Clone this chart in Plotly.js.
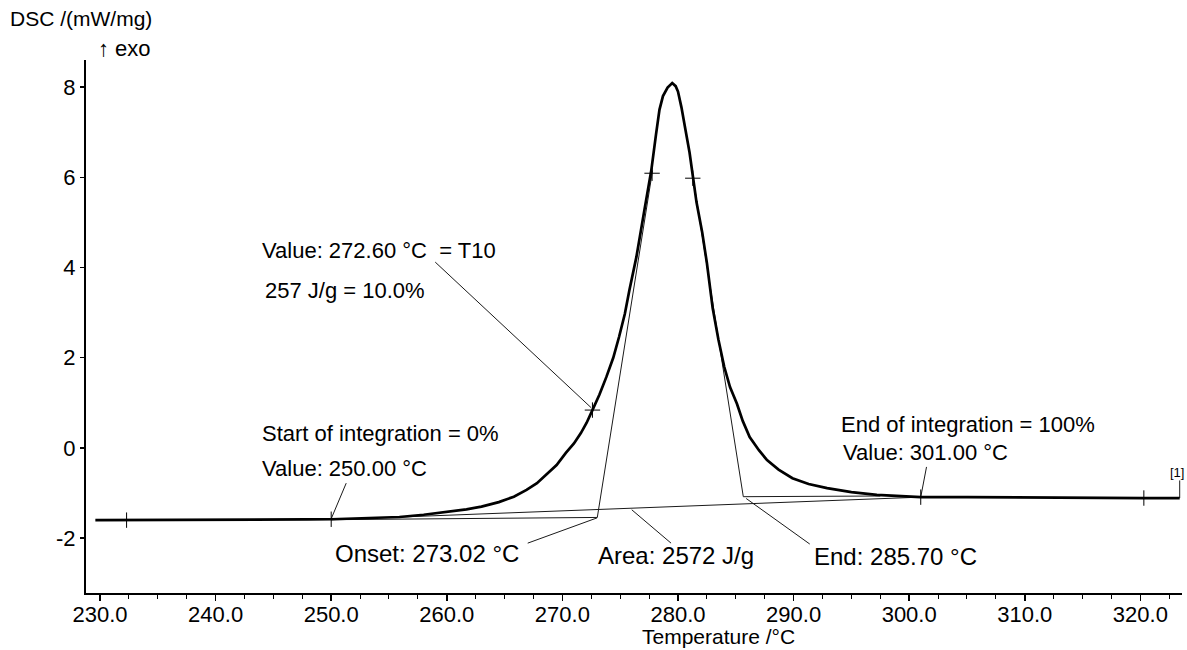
<!DOCTYPE html>
<html><head><meta charset="utf-8">
<script src="https://cdn.plot.ly/plotly-3.0.1.min.js"></script>
<style>html,body{margin:0;padding:0;background:#fff}#chart{width:1187px;height:650px}</style>
</head><body><div id="chart"></div>
<script>
// DSC curve (temperature in °C, DSC in mW/mg)
const temperature = [229.6,232.3,235,238,240,243,245,248,250,252,254,255.9,258,260,261.7,263,264.5,265.8,266.9,267.8,268.6,269.5,270.3,271.0,271.6,272.1,272.6,273.2,273.8,274.4,274.9,275.4,275.8,276.4,277.1,277.7,278.1,278.4,278.7,279.1,279.5,279.8,280.0,280.3,280.6,281.0,281.3,281.6,282.1,282.5,283.0,283.5,284.0,284.5,285.1,285.6,286.2,287.0,287.7,288.7,289.9,291.3,292.9,295.0,297.2,299.0,301.0,305.0,310.0,315.0,320.3,323.4];
const dsc = [-1.60,-1.60,-1.60,-1.60,-1.60,-1.595,-1.59,-1.585,-1.58,-1.565,-1.55,-1.53,-1.48,-1.42,-1.36,-1.30,-1.20,-1.08,-0.93,-0.78,-0.60,-0.38,-0.11,0.10,0.33,0.56,0.84,1.18,1.57,2.00,2.46,2.97,3.50,4.23,5.28,6.17,6.95,7.50,7.80,7.99,8.09,8.02,7.90,7.55,7.12,6.55,6.00,5.45,4.77,4.10,3.10,2.40,1.80,1.35,0.98,0.60,0.24,-0.05,-0.27,-0.48,-0.67,-0.80,-0.89,-0.98,-1.04,-1.07,-1.09,-1.09,-1.10,-1.10,-1.11,-1.11];

// evaluation marks (+)
const markT = [232.3,250.0,272.6,277.76,281.28,301.0,320.3];
const markV = [-1.60,-1.58,0.84,6.09,5.98,-1.09,-1.11];

// construction lines
const integBaseT = [250.0,301.0],   integBaseV = [-1.59,-1.09];
const preBaseT   = [250.0,273.02],  preBaseV   = [-1.59,-1.54];
const leftTanT   = [273.02,277.8],  leftTanV   = [-1.54,6.15];
const rightTanT  = [285.65,281.3],  rightTanV  = [-1.08,6.0];
const postBaseT  = [285.65,297.5],  postBaseV  = [-1.08,-1.065];

// label pointer lines
const ptrT10T = [259.0,272.5],   ptrT10V = [4.12,0.89];
const ptr250T = [251.3,250.0],   ptr250V = [-0.78,-1.57];
const ptrOnT  = [267.0,273.0],   ptrOnV  = [-2.11,-1.55];
const ptrArT  = [279.4,276.0],   ptrArV  = [-2.11,-1.37];
const ptrEndT = [291.4,285.9],   ptrEndV = [-2.13,-1.12];
const ptr301T = [301.5,301.0],   ptr301V = [-0.42,-1.09];
const seg1T   = [323.4,323.4],   seg1V   = [-1.11,-0.72];

const xTicks = [230,240,250,260,270,280,290,300,310,320];
const xTickText = ['230.0','240.0','250.0','260.0','270.0','280.0','290.0','300.0','310.0','320.0'];
const yTicks = [-2,0,2,4,6,8];
const yTickText = ['-2','0','2','4','6','8'];

const FONT = 'Liberation Sans, Arial, sans-serif';
const thin = {color:'#1a1a1a', width:1};
function seg(x,y){return {x:x,y:y,mode:'lines',line:thin,hoverinfo:'skip',cliponaxis:false};}

const traces = [
  seg(integBaseT,integBaseV), seg(preBaseT,preBaseV), seg(leftTanT,leftTanV),
  seg(rightTanT,rightTanV), seg(postBaseT,postBaseV),
  seg(ptrT10T,ptrT10V), seg(ptr250T,ptr250V), seg(ptrOnT,ptrOnV), seg(ptrArT,ptrArV),
  seg(ptrEndT,ptrEndV), seg(ptr301T,ptr301V), seg(seg1T,seg1V),
  {x:temperature,y:dsc,mode:'lines',line:{color:'#000',width:2.7},hoverinfo:'skip',cliponaxis:false},
  {x:markT,y:markV,mode:'markers',marker:{symbol:'cross-thin-open',size:11,color:'#000',line:{color:'#000',width:1}},hoverinfo:'skip',cliponaxis:false}
];

function ann(x,y,text,size,extra){
  return Object.assign({x:x,y:y,xref:'x',yref:'y',text:text,showarrow:false,xanchor:'left',yanchor:'middle',
    borderpad:0,font:{family:FONT,size:size,color:'#000'}},extra||{});
}

const layout = {
  width:1187,height:650,
  margin:{l:86,r:5,t:60,b:57,pad:0},
  paper_bgcolor:'#fff',plot_bgcolor:'#fff',
  showlegend:false,
  font:{family:FONT,size:22,color:'#000'},
  xaxis:{range:[228.79,323.6],tickvals:xTicks,ticktext:xTickText,
    ticks:'outside',ticklen:6,tickwidth:1.5,tickcolor:'#000',ticklabelstandoff:-5,
    showline:true,linewidth:2,linecolor:'#000',showgrid:false,zeroline:false,
    tickfont:{family:FONT,size:22,color:'#000'},
    minor:{dtick:2.5,tick0:230,ticks:'outside',ticklen:4,tickwidth:1,tickcolor:'#000',showgrid:false}},
  yaxis:{range:[-3.215,8.6],tickvals:yTicks,ticktext:yTickText,
    ticks:'outside',ticklen:4,tickwidth:1.5,tickcolor:'#000',
    showline:true,linewidth:2,linecolor:'#000',showgrid:false,zeroline:false,
    tickfont:{family:FONT,size:22,color:'#000'}},
  annotations:[
    {xref:'paper',yref:'paper',x:-0.0703,y:1.077,xanchor:'left',yanchor:'middle',showarrow:false,borderpad:0,
      text:'DSC /(mW/mg)',font:{family:FONT,size:21,color:'#000'}},
    {xref:'paper',yref:'paper',x:0.0100,y:1.0225,xanchor:'left',yanchor:'middle',showarrow:false,borderpad:0,
      text:'\u2191 exo',font:{family:FONT,size:22,color:'#000'}},
    {xref:'paper',yref:'paper',x:0.506,y:-0.0807,xanchor:'left',yanchor:'middle',showarrow:false,borderpad:0,
      text:'Temperature /\u00b0C',font:{family:FONT,size:21,color:'#000'}},
    ann(243.94,4.37,'Value: 272.60 \u00b0C\u00a0\u00a0= T10',22),
    ann(244.2,3.48,'257 J/g = 10.0%',22),
    ann(243.94,0.33,'Start of integration = 0%',22),
    ann(243.94,-0.46,'Value: 250.00 \u00b0C',22),
    ann(250.26,-2.34,'Onset: 273.02 \u00b0C',24),
    ann(273.03,-2.39,'Area: 2572 J/g',24),
    ann(291.65,-2.41,'End: 285.70 \u00b0C',24),
    ann(294.0,0.51,'End of integration = 100%',22),
    ann(294.16,-0.11,'Value: 301.00 \u00b0C',22),
    ann(323.16,-0.55,'[1]',13,{xanchor:'center'})
  ]
};

Plotly.newPlot('chart',traces,layout,{staticPlot:true,displayModeBar:false});
</script>
</body></html>
